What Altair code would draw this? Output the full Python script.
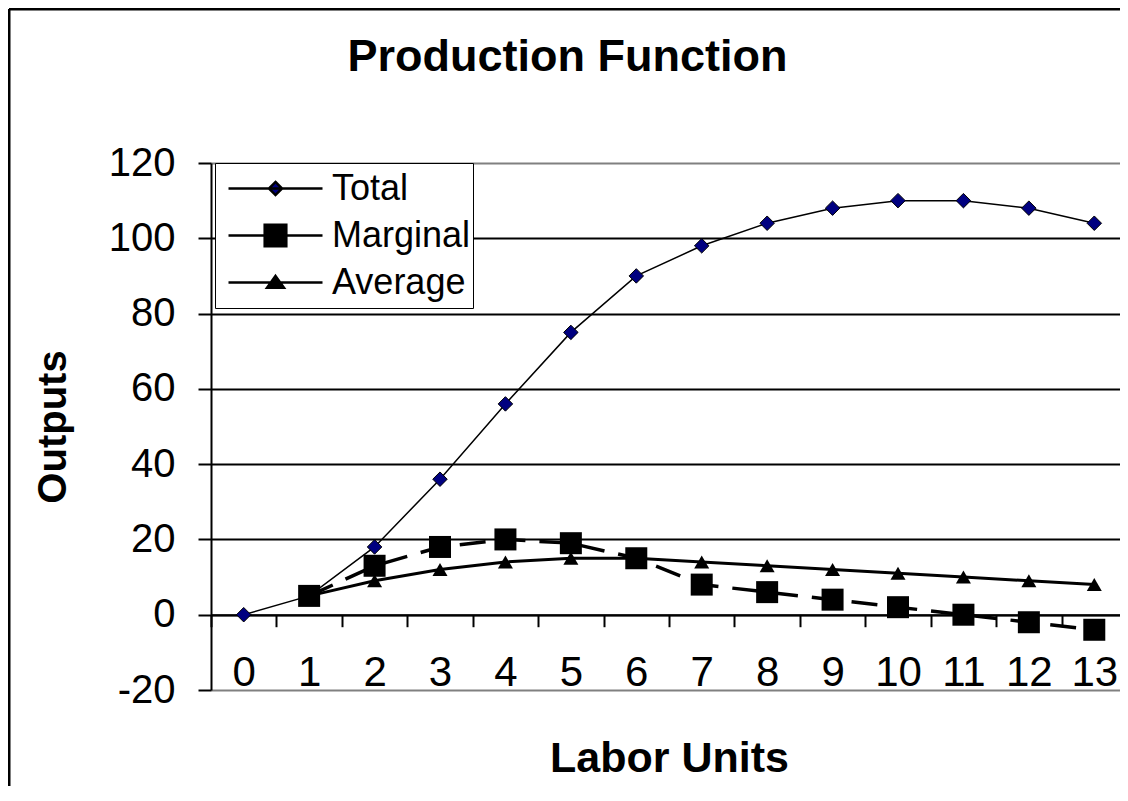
import altair as alt
import pandas as pd

# ---------------- data ----------------
labor = list(range(14))
total = [0, 5, 18, 36, 56, 75, 90, 98, 104, 108, 110, 110, 108, 104]
marginal_labor = list(range(1, 14))
marginal = [5, 13, 18, 20, 19, 15, 8, 6, 4, 2, 0, -2, -4]
average_labor = list(range(1, 14))
average = [5, 9, 12, 14, 15, 15, 14, 13, 12, 11, 10, 9, 8]
series_names = ["Total", "Marginal", "Average"]
y_ticks = [-20, 0, 20, 40, 60, 80, 100, 120]
x_tick_bounds = [i - 0.5 for i in range(14)]

rows = []
for l, v in zip(labor, total):
    rows.append({"Labor": l, "Output": v, "Series": "Total"})
for l, v in zip(marginal_labor, marginal):
    rows.append({"Labor": l, "Output": v, "Series": "Marginal"})
for l, v in zip(average_labor, average):
    rows.append({"Labor": l, "Output": v, "Series": "Average"})
df = pd.DataFrame(rows)

FONT = "Liberation Sans"
X_RANGE = 916
CAT = X_RANGE / 14.0

x_scale = alt.Scale(domain=[-0.5, 13.5], range=[0, X_RANGE], nice=False, zero=False)
y_scale = alt.Scale(domain=[-20, 120], nice=False, zero=False)

x_axis = alt.Axis(
    title="Labor Units",
    values=x_tick_bounds,
    labelExpr="format(datum.value + 0.5, 'd')",
    labelOffset=CAT / 2,
    labelFlush=False,
    labelOverlap=False,
    labelBaseline="alphabetic",
    labelAlign="center",
    labelPadding=59,
    labelFont=FONT,
    labelFontSize=42,
    labelColor="black",
    tickSize=12,
    tickWidth=2,
    tickColor="black",
    domainColor="black",
    domainWidth=2,
    grid=False,
    offset=-75.29,
    titleFont=FONT,
    titleFontSize=43,
    titleFontWeight="bold",
    titleColor="black",
    titleBaseline="alphabetic",
    titleY=157,
)

y_axis = alt.Axis(
    title="Outputs",
    values=y_ticks,
    labelExpr="'' + datum.value",
    labelFont=FONT,
    labelFontSize=40,
    labelColor="black",
    labelPadding=23,
    tickSize=13,
    tickWidth=2,
    tickColor="black",
    domainColor="black",
    domainWidth=2,
    grid=True,
    gridColor={"condition": {"test": "datum.value == 120 || datum.value == -20", "value": "#808080"}, "value": "black"},
    gridWidth=2,
    titleFont=FONT,
    titleFontSize=40,
    titleFontWeight="bold",
    titleColor="black",
    titleX=-158,
    titleY=263.5,
    titleAngle=270,
    titleBaseline="middle",
    titleAlign="center",
)

X = alt.X("Labor:Q", scale=x_scale, axis=x_axis)
Y = alt.Y("Output:Q", scale=y_scale, axis=y_axis)

base = alt.Chart(df)

total_line = base.transform_filter("datum.Series == 'Total'").mark_line(
    color="black", strokeWidth=1.5).encode(x=X, y=Y)
marg_line = base.transform_filter("datum.Series == 'Marginal'").mark_line(
    color="black", strokeWidth=3.5, strokeDash=[26, 14]).encode(x=X, y=Y)
avg_line = base.transform_filter("datum.Series == 'Average'").mark_line(
    color="black", strokeWidth=3).encode(x=X, y=Y)

total_pts = base.transform_filter("datum.Series == 'Total'").mark_point(
    shape="diamond", filled=True, fill="#000080", stroke="black", strokeWidth=1,
    size=210, opacity=1).encode(x=X, y=Y)
marg_pts = base.transform_filter("datum.Series == 'Marginal'").mark_point(
    shape="square", filled=True, fill="black", size=484, opacity=1).encode(x=X, y=Y)
avg_pts = base.transform_filter("datum.Series == 'Average'").mark_point(
    shape="triangle-up", filled=True, fill="black", size=225, opacity=1).encode(x=X, y=Y)

legend_shapes = [
    "M-1,0L1,0M0,-0.14L0.14,0L0,0.14L-0.14,0Z",
    "M-1,0L1,0M-0.23,-0.23L0.23,-0.23L0.23,0.23L-0.23,0.23Z",
    "M-1,0L1,0M0,-0.14L0.18,0.11L-0.18,0.11Z",
]
leg = alt.Legend(
    title=None,
    orient="none",
    legendX=4,
    legendY=0,
    padding=2,
    fillColor="white",
    strokeColor="black",
    symbolSize=8836,
    clipHeight=47,
    rowPadding=0,
    symbolOffset=10,
    labelOffset=8,
    labelFont=FONT,
    labelFontSize=36,
    labelColor="black",
    labelLimit=400,
    symbolStrokeWidth=2.5,
    symbolOpacity=1,
)
legend_layer = base.mark_point(filled=True, opacity=0).encode(
    x=X,
    y=Y,
    shape=alt.Shape("Series:N", scale=alt.Scale(domain=series_names, range=legend_shapes), legend=leg),
    fill=alt.Fill("Series:N", scale=alt.Scale(domain=series_names, range=["#000080", "black", "black"]), legend=leg),
    stroke=alt.Stroke("Series:N", scale=alt.Scale(domain=series_names, range=["black", "black", "black"]), legend=leg),
)

one = pd.DataFrame({"k": [0]})
frame_left = alt.Chart(one).mark_rule(color="black", strokeWidth=3).encode(
    x=alt.value(-202), y=alt.value(-154), y2=alt.value(5000))
frame_top = alt.Chart(one).mark_rule(color="black", strokeWidth=3).encode(
    x=alt.value(-202), x2=alt.value(5000), y=alt.value(-154))

chart = alt.layer(
    frame_left, frame_top, avg_line, marg_line, total_line, total_pts, marg_pts, avg_pts, legend_layer
).properties(
    width=909,
    height=527,
    autosize=alt.AutoSizeParams(type="none"),
    padding={"left": 203, "top": 155, "right": 0, "bottom": 96},
    title=alt.TitleParams(
        "Production Function", font=FONT, fontSize=45, fontWeight="bold", color="black",
        anchor="middle", frame="group", baseline="alphabetic", offset=0, dx=-98, dy=108),
).configure_view(
    strokeWidth=0
).configure(background="white")

chart.save("out.html", embed_options={"renderer": "svg", "actions": False})
